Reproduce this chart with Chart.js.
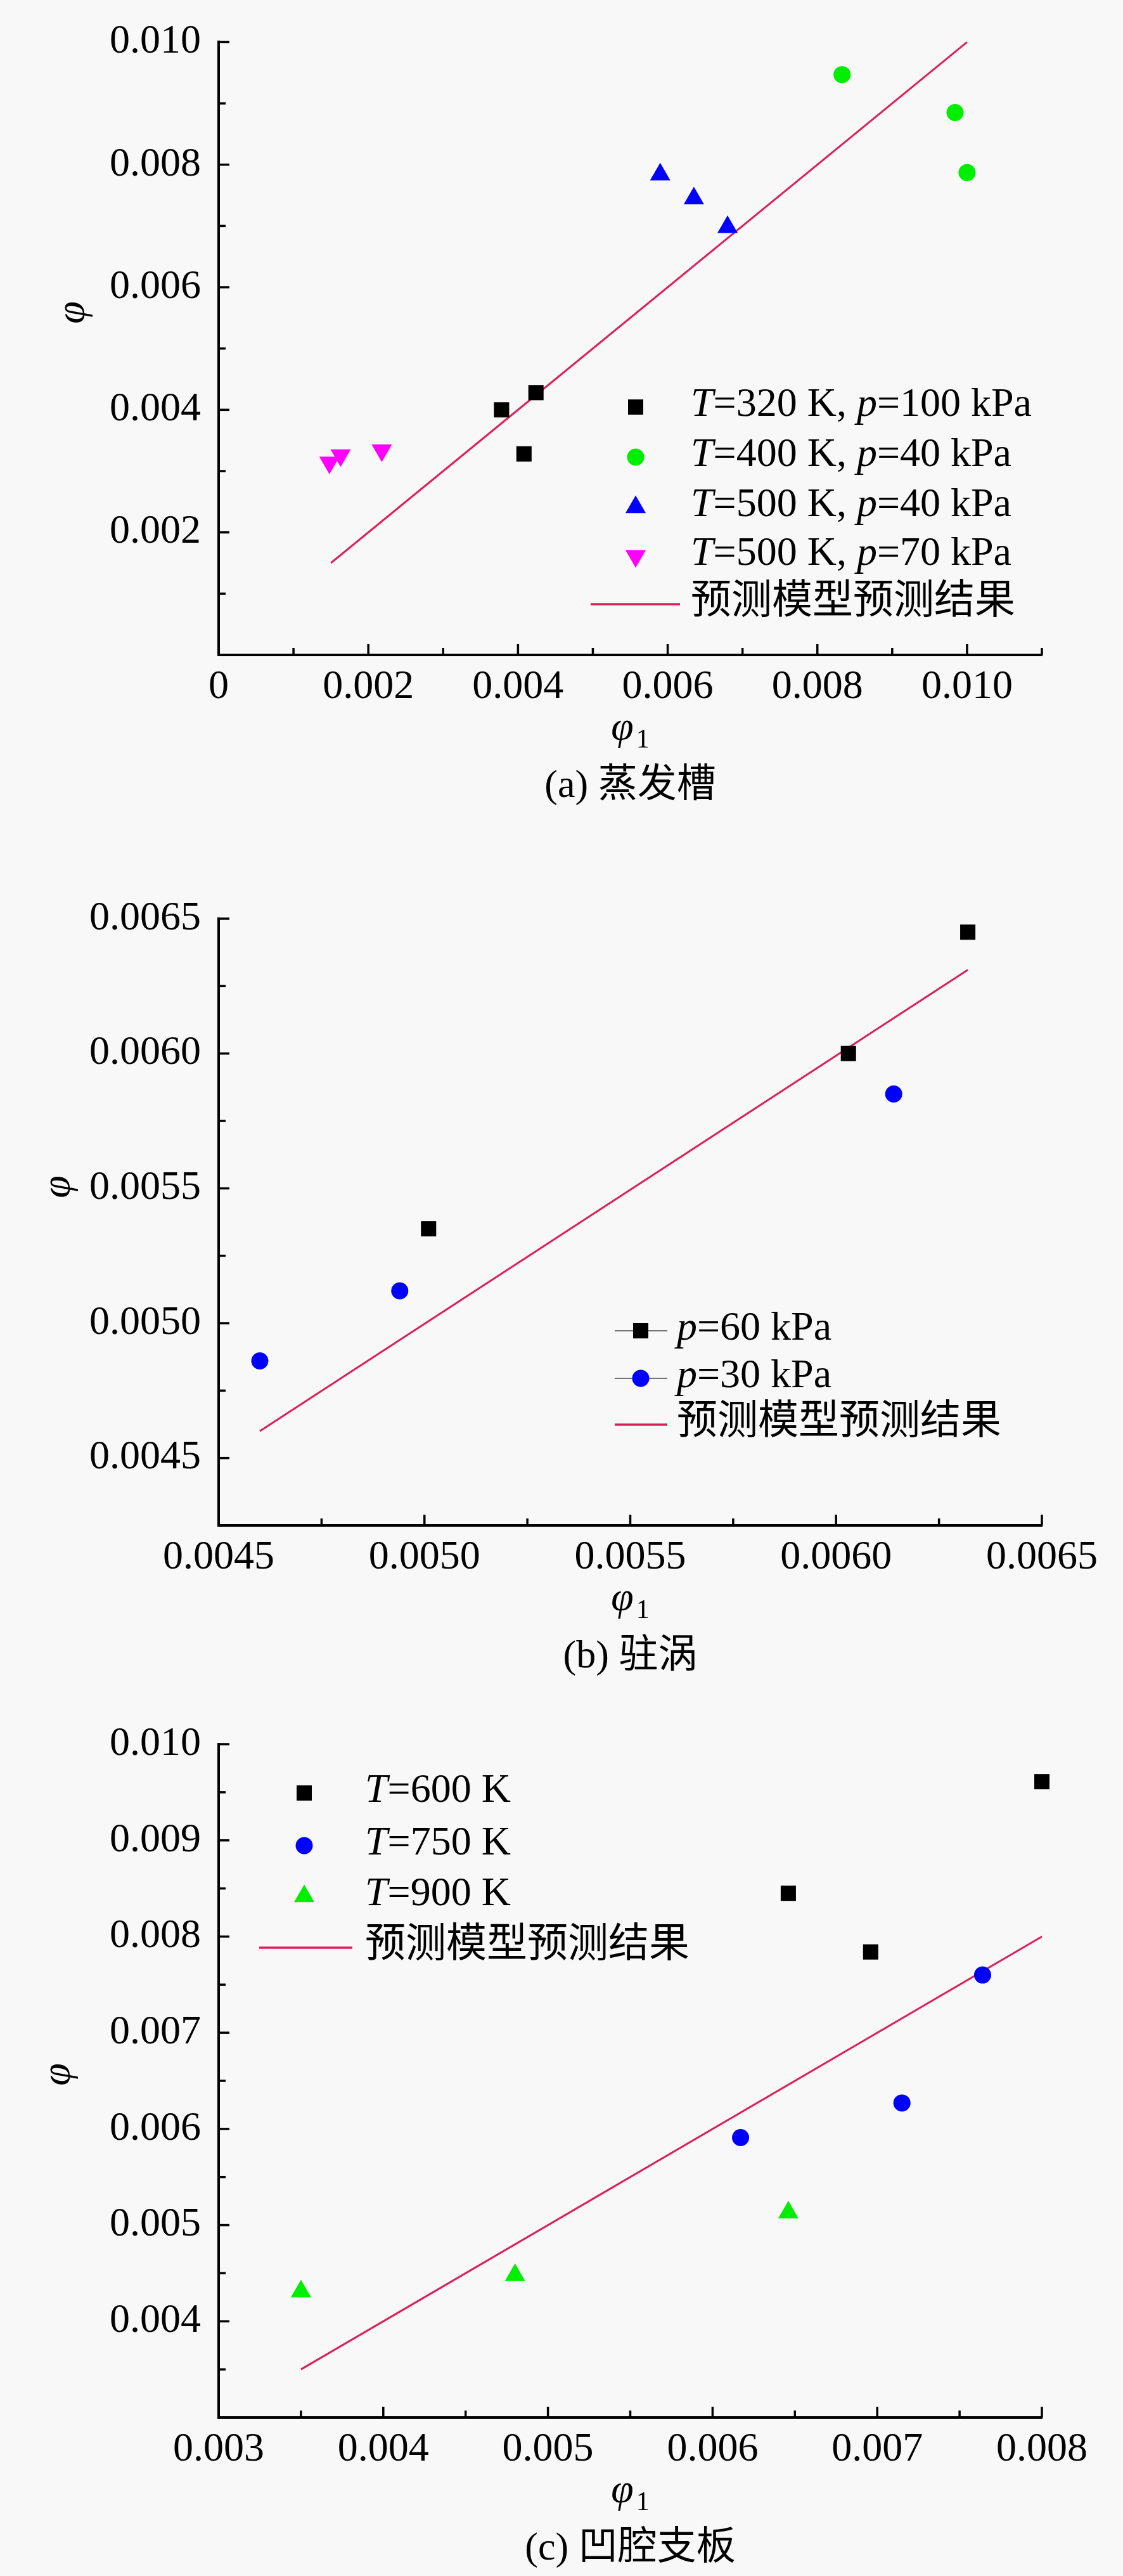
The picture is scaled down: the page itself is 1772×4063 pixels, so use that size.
<!DOCTYPE html>
<html>
<head>
<meta charset="utf-8">
<script src="https://cdn.jsdelivr.net/npm/chart.js@4.4.1/dist/chart.umd.min.js"></script>
<style>
  body { margin: 0; background: #f8f8f8; }
  canvas { display: block; }
</style>
</head>
<body>
<canvas id="chartA" width="1772" height="1300"></canvas>
<canvas id="chartB" width="1772" height="1360"></canvas>
<canvas id="chartC" width="1772" height="1403"></canvas>
<script>
// ---- (a) 蒸发槽 ----
const xTicksA = [0, 0.002, 0.004, 0.006, 0.008, 0.010];
const xLabelsA = ['0', '0.002', '0.004', '0.006', '0.008', '0.010'];
const yTicksA = [0.002, 0.004, 0.006, 0.008, 0.010];
const yLabelsA = ['0.002', '0.004', '0.006', '0.008', '0.010'];
const a320x = [0.00378, 0.00424, 0.00408];
const a320y = [0.00400, 0.00428, 0.00328];
const a400x = [0.00833, 0.00984, 0.01000];
const a400y = [0.00947, 0.00885, 0.00787];
const a500x = [0.00590, 0.00635, 0.00680];
const a500y = [0.00784, 0.00745, 0.00698];
const a570x = [0.00148, 0.00163, 0.00218];
const a570y = [0.00314, 0.00326, 0.00334];
const aFitX = [0.0015, 0.0100];
const aFitY = [0.0015, 0.0100];
const legendA = ['*T*=320 K, *p*=100 kPa', '*T*=400 K, *p*=40 kPa', '*T*=500 K, *p*=40 kPa', '*T*=500 K, *p*=70 kPa', '预测模型预测结果'];

// ---- (b) 驻涡 ----
const xTicksB = [0.0045, 0.0050, 0.0055, 0.0060, 0.0065];
const xLabelsB = ['0.0045', '0.0050', '0.0055', '0.0060', '0.0065'];
const yTicksB = [0.0045, 0.0050, 0.0055, 0.0060, 0.0065];
const yLabelsB = ['0.0045', '0.0050', '0.0055', '0.0060', '0.0065'];
const b60x = [0.00501, 0.00603, 0.00632];
const b60y = [0.00535, 0.00600, 0.00645];
const b30x = [0.00460, 0.00494, 0.00614];
const b30y = [0.00486, 0.00512, 0.00585];
const bFitX = [0.00460, 0.00632];
const bFitY = [0.00460, 0.00631];
const legendB = ['*p*=60 kPa', '*p*=30 kPa', '预测模型预测结果'];

// ---- (c) 凹腔支板 ----
const xTicksC = [0.003, 0.004, 0.005, 0.006, 0.007, 0.008];
const xLabelsC = ['0.003', '0.004', '0.005', '0.006', '0.007', '0.008'];
const yTicksC = [0.004, 0.005, 0.006, 0.007, 0.008, 0.009, 0.010];
const yLabelsC = ['0.004', '0.005', '0.006', '0.007', '0.008', '0.009', '0.010'];
const c600x = [0.00646, 0.00696, 0.00800];
const c600y = [0.00845, 0.00784, 0.00961];
const c750x = [0.00617, 0.00715, 0.00764];
const c750y = [0.00591, 0.00627, 0.00760];
const c900x = [0.00350, 0.00480, 0.00646];
const c900y = [0.00431, 0.00448, 0.00513];
const cFitX = [0.0035, 0.0080];
const cFitY = [0.0035, 0.0080];
const legendC = ['*T*=600 K', '*T*=750 K', '*T*=900 K', '预测模型预测结果'];

const FONT = '"Liberation Serif", "Noto Sans CJK SC", serif';
const FIT_COLOR = '#dc1e5a';

function pts(xs, ys) {
    return xs.map((x, i) => ({ x: x, y: ys[i] }));
}

function marks(label, xs, ys, color, style, radius, rotation) {
    return {
        label: label,
        data: pts(xs, ys),
        showLine: false,
        pointStyle: style,
        pointRadius: radius,
        pointRotation: rotation || 0,
        pointBackgroundColor: color,
        pointBorderWidth: 0,
        backgroundColor: color,
        clip: false,
    };
}

function fitLine(label, xs, ys) {
    return {
        label: label,
        data: pts(xs, ys),
        showLine: true,
        borderColor: FIT_COLOR,
        borderWidth: 3,
        pointRadius: 0,
        clip: false,
    };
}

// text with *italic* parts
function richText(ctx, str, x, y, size, align) {
    const parts = str.split('*');
    let w = 0;
    parts.forEach((p, i) => {
        ctx.font = (i % 2 ? 'italic ' : '') + size + 'px ' + FONT;
        w += ctx.measureText(p).width;
    });
    let cx = align === 'center' ? x - w / 2 : x;
    ctx.textAlign = 'left';
    ctx.textBaseline = 'middle';
    parts.forEach((p, i) => {
        ctx.font = (i % 2 ? 'italic ' : '') + size + 'px ' + FONT;
        ctx.fillText(p, cx, y);
        cx += ctx.measureText(p).width;
    });
}

// inward ticks, axis titles, caption and legend
const decor = {
    id: 'decor',
    afterDraw(chart, args, o) {
        const { ctx, chartArea: ca, scales: { x, y } } = chart;
        ctx.save();
        ctx.strokeStyle = '#000';
        ctx.fillStyle = '#000';
        ctx.lineWidth = 3.5;

        const walk = (s, step, majors, draw) => {
            for (let k = 0; ; k++) {
                const v = s.min + k * step;
                if (v > s.max + step / 10) break;
                const major = majors.some(m => Math.abs(m - v) < 1e-9);
                draw(s.getPixelForValue(v), major ? 17 : 11);
            }
        };
        walk(x, o.minorX, o.majorX, (px, len) => {
            ctx.beginPath();
            ctx.moveTo(px, ca.bottom);
            ctx.lineTo(px, ca.bottom - len);
            ctx.stroke();
        });
        walk(y, o.minorY, o.majorY, (py, len) => {
            ctx.beginPath();
            ctx.moveTo(ca.left, py);
            ctx.lineTo(ca.left + len, py);
            ctx.stroke();
        });

        // y title
        ctx.save();
        ctx.translate(o.yTitle[0], o.yTitle[1]);
        ctx.rotate(-Math.PI / 2);
        ctx.font = 'italic 64px ' + FONT;
        ctx.textAlign = 'center';
        ctx.textBaseline = 'middle';
        ctx.fillText('φ', 0, 0);
        ctx.restore();

        // x title  φ1
        const cx = (ca.left + ca.right) / 2;
        const by = ca.bottom + 133;
        ctx.font = 'italic 64px ' + FONT;
        const w1 = ctx.measureText('φ').width;
        ctx.font = '42px ' + FONT;
        const w2 = ctx.measureText('1').width;
        ctx.textAlign = 'left';
        ctx.textBaseline = 'alphabetic';
        ctx.font = 'italic 64px ' + FONT;
        ctx.fillText('φ', cx - (w1 + w2 + 4) / 2, by);
        ctx.font = '42px ' + FONT;
        ctx.fillText('1', cx - (w1 + w2 + 4) / 2 + w1 + 4, by + 13);

        // caption
        richText(ctx, o.caption, cx, ca.bottom + 208, 62, 'center');

        // legend
        const lg = o.legend;
        chart.data.datasets.forEach((ds, i) => {
            const ry = lg.rows[i];
            if (ds.showLine) {
                ctx.strokeStyle = ds.borderColor;
                ctx.lineWidth = 3.5;
                ctx.beginPath();
                ctx.moveTo(lg.line[0], ry);
                ctx.lineTo(lg.line[1], ry);
                ctx.stroke();
            } else {
                if (lg.grayLine) {
                    ctx.strokeStyle = '#777';
                    ctx.lineWidth = 2;
                    ctx.beginPath();
                    ctx.moveTo(lg.line[0], ry);
                    ctx.lineTo(lg.line[1], ry);
                    ctx.stroke();
                }
                ctx.fillStyle = ds.pointBackgroundColor;
                Chart.helpers.drawPoint(ctx, {
                    pointStyle: ds.pointStyle,
                    radius: ds.pointRadius,
                    rotation: ds.pointRotation,
                    borderWidth: 0,
                }, lg.marker, ry);
            }
            ctx.fillStyle = '#000';
            richText(ctx, o.labels[i], lg.text, ry - 3, 64, 'left');
        });
        ctx.restore();
    }
};

function makeChart(id, p) {
    const canvas = document.getElementById(id);
    const tickFont = { family: FONT, size: 64 };
    return new Chart(canvas, {
        type: 'scatter',
        data: { datasets: p.datasets },
        options: {
            animation: false,
            responsive: false,
            devicePixelRatio: 1,
            layout: { padding: { left: 0, top: p.top, right: 128, bottom: 0 } },
            plugins: {
                legend: { display: false },
                tooltip: { enabled: false },
                decor: p.decor,
            },
            scales: {
                x: {
                    type: 'linear',
                    min: p.xMin,
                    max: p.xMax,
                    grid: { display: false, drawTicks: false },
                    border: { color: '#000', width: 4 },
                    ticks: {
                        font: tickFont, color: '#000', padding: 13,
                        maxRotation: 0, autoSkip: false,
                        callback: (v, i) => p.xLabels[i],
                    },
                    afterBuildTicks: s => { s.ticks = p.xTicks.map(v => ({ value: v })); },
                    afterFit: s => { s.height = canvas.height - p.bottom; },
                },
                y: {
                    type: 'linear',
                    min: p.yMin,
                    max: p.yMax,
                    grid: { display: false, drawTicks: false },
                    border: { color: '#000', width: 4 },
                    ticks: {
                        font: tickFont, color: '#000', padding: 28,
                        autoSkip: false,
                        callback: (v, i) => p.yLabels[i],
                    },
                    afterBuildTicks: s => { s.ticks = p.yTicks.map(v => ({ value: v })); },
                    afterFit: s => { s.width = 345; },
                },
            },
        },
        plugins: [decor],
    });
}

makeChart('chartA', {
    top: 65, bottom: 1033,
    xMin: 0, xMax: 0.011, yMin: 0, yMax: 0.010,
    xTicks: xTicksA, xLabels: xLabelsA, yTicks: yTicksA, yLabels: yLabelsA,
    datasets: [
        marks(legendA[0], a320x, a320y, '#000000', 'rect', 17),
        marks(legendA[1], a400x, a400y, '#00ee00', 'circle', 13.5),
        marks(legendA[2], a500x, a500y, '#0000ff', 'triangle', 18.5),
        marks(legendA[3], a570x, a570y, '#ff00ff', 'triangle', 18.5, 180),
        fitLine(legendA[4], aFitX, aFitY),
    ],
    decor: {
        minorX: 0.001, majorX: xTicksA, minorY: 0.001, majorY: yTicksA,
        yTitle: [115, 493], caption: '(a) 蒸发槽', labels: legendA,
        legend: { marker: 1003, text: 1090, line: [932, 1073], rows: [642, 721, 800, 877, 953] },
    },
});

makeChart('chartB', {
    top: 149, bottom: 1106,
    xMin: 0.0045, xMax: 0.0065, yMin: 0.00425, yMax: 0.0065,
    xTicks: xTicksB, xLabels: xLabelsB, yTicks: yTicksB, yLabels: yLabelsB,
    datasets: [
        marks(legendB[0], b60x, b60y, '#000000', 'rect', 17),
        marks(legendB[1], b30x, b30y, '#0000ff', 'circle', 13.5),
        fitLine(legendB[2], bFitX, bFitY),
    ],
    decor: {
        minorX: 0.00025, majorX: xTicksB, minorY: 0.00025, majorY: yTicksB,
        yTitle: [92, 572], caption: '(b) 驻涡', labels: legendB,
        legend: { marker: 1011, text: 1068, line: [970, 1053], rows: [799, 874, 947], grayLine: true },
    },
});

makeChart('chartC', {
    top: 91, bottom: 1153,
    xMin: 0.003, xMax: 0.008, yMin: 0.003, yMax: 0.010,
    xTicks: xTicksC, xLabels: xLabelsC, yTicks: yTicksC, yLabels: yLabelsC,
    datasets: [
        marks(legendC[0], c600x, c600y, '#000000', 'rect', 17),
        marks(legendC[1], c750x, c750y, '#0000ff', 'circle', 13.5),
        marks(legendC[2], c900x, c900y, '#00ee00', 'triangle', 18.5),
        fitLine(legendC[3], cFitX, cFitY),
    ],
    decor: {
        minorX: 0.0005, majorX: xTicksC, minorY: 0.0005, majorY: yTicksC,
        yTitle: [92, 612], caption: '(c) 凹腔支板', labels: legendC,
        legend: { marker: 480, text: 576, line: [409, 556], rows: [168, 251, 331, 412] },
    },
});
</script>
</body>
</html>
